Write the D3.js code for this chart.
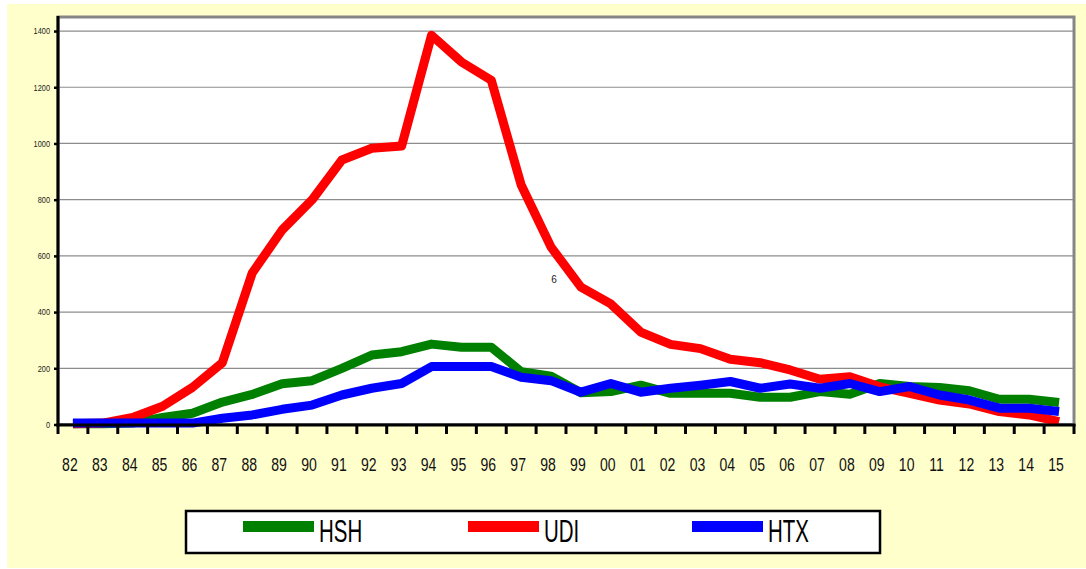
<!DOCTYPE html>
<html>
<head>
<meta charset="utf-8">
<script src="https://cdn.jsdelivr.net/npm/d3@7"></script>
<style>
  html, body { margin: 0; padding: 0; background: #ffffff; }
  svg { display: block; }
  text { font-family: "Liberation Sans", Arial, sans-serif; }
</style>
</head>
<body>
<svg id="chart" width="1086" height="569"></svg>
<script>
const years = ["82","83","84","85","86","87","88","89","90","91","92","93","94","95","96","97","98","99","00","01","02","03","04","05","06","07","08","09","10","11","12","13","14","15"];
const hsh = [3,3,5,25,40,80,107,145,156,200,247,259,286,275,275,188,172,113,117,140,111,111,111,97,97,117,108,146,135,132,120,90,90,78];
const udi = [3,5,25,65,132,220,539,692,799,941,983,991,1385,1290,1225,852,631,489,429,329,285,270,232,220,194,161,170,134,111,87,73,46,34,10];
const htx = [5,5,5,5,5,22,34,54,69,105,129,146,206,206,206,168,156,115,146,115,129,140,153,129,144,129,146,117,135,105,87,58,58,46];
const seriesNames = ["HSH","UDI","HTX"];
const seriesColors = ["#008000","#ff0000","#0000ff"];
const yTicks = [0,200,400,600,800,1000,1200,1400];
const strayLabel = {text: "6", year: "98", value: 517};

const svg = d3.select("#chart");
const L = 58, R = 1074, T = 17, B = 424.5;

// chart background
svg.append("rect").attr("x", 7).attr("y", 4).attr("width", 1079).attr("height", 564).attr("fill", "#ffffcc");

const x = d3.scaleBand().domain(years).range([L, R]).padding(0);
const y = d3.scaleLinear().domain([0, 1450]).range([B, T]);

// plot area
svg.append("rect").attr("x", L).attr("y", T).attr("width", R - L).attr("height", B - T)
  .attr("fill", "#ffffff").attr("stroke", "#868686").attr("stroke-width", 3);

// gridlines
svg.append("g").selectAll("line").data(yTicks.filter(d => d > 0)).join("line")
  .attr("x1", L).attr("x2", R - 1).attr("y1", d => y(d)).attr("y2", d => y(d))
  .attr("stroke", "#8c8c8c").attr("stroke-width", 1.2);

// lines
const allSeries = [hsh, udi, htx];
const line = d3.line().x((d, i) => x(years[i]) + x.bandwidth() / 2).y(d => y(d));
allSeries.forEach((s, k) => {
  svg.append("path").datum(s).attr("d", line).attr("fill", "none")
    .attr("stroke", seriesColors[k]).attr("stroke-width", 9)
    .attr("stroke-linejoin", "round").attr("stroke-linecap", "butt");
});

// stray data label
svg.append("text").attr("x", x(strayLabel.year) + x.bandwidth() / 2 + 3).attr("y", y(strayLabel.value) + 4)
  .attr("text-anchor", "middle").attr("font-size", 10).attr("fill", "#222").text(strayLabel.text);

// y axis
const yAxis = svg.append("g").attr("transform", `translate(${L},0)`)
  .call(d3.axisLeft(y).tickValues(yTicks).tickSize(4).tickPadding(4).tickFormat(d3.format("d")));
yAxis.select(".domain").remove();
yAxis.selectAll(".tick line").attr("stroke", "#000").attr("stroke-width", 2.5);
yAxis.selectAll(".tick text").attr("font-size", 9).attr("fill", "#222")
  .attr("font-family", "'Liberation Sans', Arial, sans-serif")
  .attr("transform", "scale(0.82,1)").attr("dy", "0.32em")
  .attr("x", -8 / 0.82);
svg.append("line").attr("x1", L).attr("x2", L).attr("y1", T - 1).attr("y2", B + 2)
  .attr("stroke", "#000").attr("stroke-width", 3);

// x axis
const xAxis = svg.append("g").attr("transform", `translate(0,${B})`)
  .call(d3.axisBottom(x).tickSize(0).tickPadding(0));
xAxis.select(".domain").remove();
xAxis.selectAll(".tick text").attr("font-size", 19).attr("fill", "#111")
  .attr("font-family", "'Liberation Sans', Arial, sans-serif")
  .attr("dy", 0).attr("y", 46.5).attr("x", -3 / 0.74)
  .attr("transform", "scale(0.74,1)");
const bounds = d3.range(years.length + 1).map(i => L + i * x.step());
svg.append("g").selectAll("line").data(bounds).join("line")
  .attr("x1", d => d).attr("x2", d => d).attr("y1", B).attr("y2", B + 9.5)
  .attr("stroke", "#000").attr("stroke-width", 3);
svg.append("line").attr("x1", L - 1.5).attr("x2", R + 1.5).attr("y1", B + 0.5).attr("y2", B + 0.5)
  .attr("stroke", "#000").attr("stroke-width", 3);

// legend
const lg = svg.append("g");
lg.append("rect").attr("x", 186).attr("y", 511).attr("width", 694).attr("height", 42)
  .attr("fill", "#ffffff").attr("stroke", "#000").attr("stroke-width", 2.5);
const legendX = [243, 468, 692];
seriesNames.forEach((n, k) => {
  lg.append("rect").attr("x", legendX[k]).attr("y", 521).attr("width", 71).attr("height", 11)
    .attr("fill", seriesColors[k]);
  lg.append("text").attr("transform", `translate(${legendX[k] + 76},542) scale(0.66,1)`)
    .attr("font-size", 31).attr("fill", "#000").text(n);
});
</script>
</body>
</html>
